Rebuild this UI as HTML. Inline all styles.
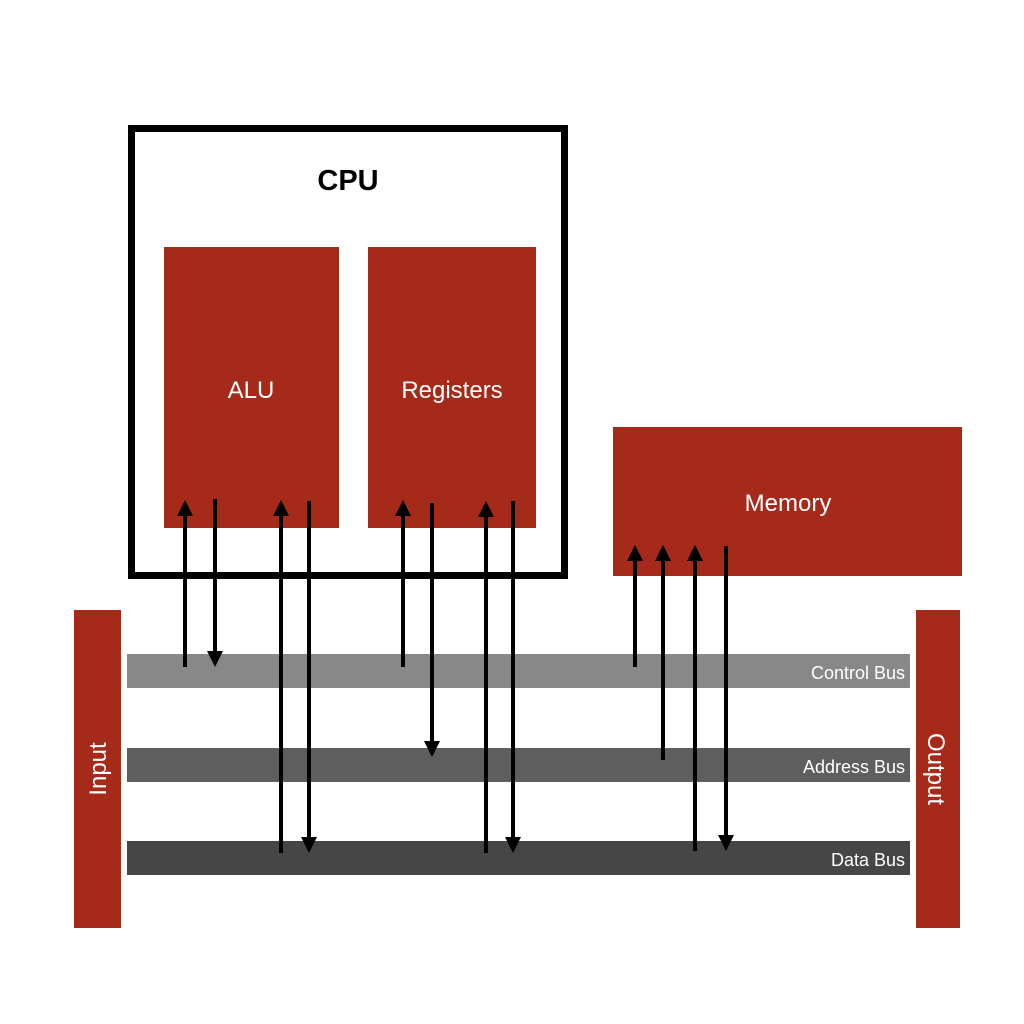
<!DOCTYPE html>
<html><head><meta charset="utf-8"><style>body{margin:0;background:#fff}svg{display:block}</style></head>
<body>
<svg width="1024" height="1024" viewBox="0 0 1024 1024" xmlns="http://www.w3.org/2000/svg" font-family="Liberation Sans, sans-serif">
<defs>
<marker id="a" markerWidth="4.5" markerHeight="4" refX="0" refY="2" orient="auto" markerUnits="strokeWidth">
<path d="M0,0 L4,2 L0,4 z" fill="#000"/></marker>
</defs>
<rect x="0" y="0" width="1024" height="1024" fill="#fff"/>
<rect x="131.5" y="128.5" width="433" height="447" fill="none" stroke="#000" stroke-width="7"/>
<text x="348" y="190" font-size="29" font-weight="bold" text-anchor="middle" fill="#000">CPU</text>
<rect x="164" y="247" width="175" height="281" fill="#a52a19"/>
<rect x="368" y="247" width="168" height="281" fill="#a52a19"/>
<text x="251" y="398" font-size="24" fill="#fff" text-anchor="middle">ALU</text>
<text x="452" y="398" font-size="24" fill="#fff" text-anchor="middle">Registers</text>
<rect x="613" y="427" width="349" height="149" fill="#a52a19"/>
<text x="788" y="511" font-size="24" fill="#fff" text-anchor="middle">Memory</text>
<rect x="74" y="610" width="47" height="318" fill="#a52a19"/>
<rect x="916" y="610" width="44" height="318" fill="#a52a19"/>
<text transform="translate(106,769) rotate(-90)" font-size="24" fill="#fff" text-anchor="middle">Input</text>
<text transform="translate(928,769) rotate(90)" font-size="24" fill="#fff" text-anchor="middle">Output</text>
<rect x="127" y="654" width="783" height="34" fill="#888888"/>
<rect x="127" y="748" width="783" height="34" fill="#5e5e5e"/>
<rect x="127" y="841" width="783" height="34" fill="#464646"/>
<text x="905" y="679" font-size="18" fill="#fff" text-anchor="end">Control Bus</text>
<text x="905" y="773" font-size="18" fill="#fff" text-anchor="end">Address Bus</text>
<text x="905" y="866" font-size="18" fill="#fff" text-anchor="end">Data Bus</text>
<g stroke="#000" stroke-width="4" marker-end="url(#a)">
<line x1="185" y1="667" x2="185" y2="516"/>
<line x1="215" y1="499" x2="215" y2="651"/>
<line x1="281" y1="853" x2="281" y2="516"/>
<line x1="309" y1="501" x2="309" y2="837"/>
<line x1="403" y1="667" x2="403" y2="516"/>
<line x1="432" y1="503" x2="432" y2="741"/>
<line x1="486" y1="853" x2="486" y2="517"/>
<line x1="513" y1="501" x2="513" y2="837"/>
<line x1="635" y1="667" x2="635" y2="561"/>
<line x1="663" y1="760" x2="663" y2="561"/>
<line x1="695" y1="851" x2="695" y2="561"/>
<line x1="726" y1="546" x2="726" y2="835"/>
</g>
</svg>
</body></html>
